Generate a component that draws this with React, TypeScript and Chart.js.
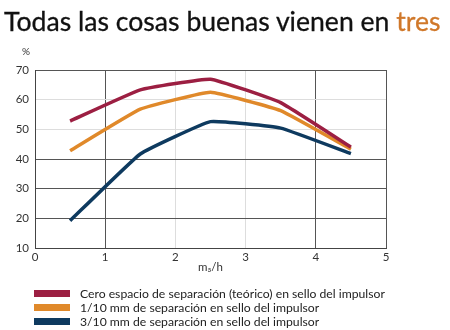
import React, { useEffect, useRef } from "react";
import { Chart, registerables } from "chart.js";

Chart.register(...registerables);

const xValues = [0.5, 1.5, 2.5, 3.5, 4.5];
const seriesCero = [52.8, 63.3, 66.9, 59.0, 44.0];
const seriesUno = [42.8, 56.8, 62.5, 56.3, 43.3];
const seriesTres = [19.2, 41.7, 52.6, 50.4, 41.8];
const seriesLabels = [
  "Cero espacio de separación (teórico) en sello del impulsor",
  "1/10 mm de separación en sello del impulsor",
  "3/10 mm de separación en sello del impulsor",
];
const seriesColors = ["#9c1f42", "#e0892a", "#0e3a5f"];
const xTicks = [0, 1, 2, 3, 4, 5];
const yTicks = [10, 20, 30, 40, 50, 60, 70];
const lightX = [2, 3];
const lightY = [50, 60];

const FONT = "Lato, 'Open Sans', sans-serif";

export default function App() {
  const canvasRef = useRef<HTMLCanvasElement | null>(null);

  useEffect(() => {
    document.body.style.margin = "0";
    const canvas = canvasRef.current;
    if (!canvas) return;
    const allSeries = [seriesCero, seriesUno, seriesTres];
    const chart = new Chart(canvas, {
      type: "line",
      data: {
        datasets: allSeries.map((s, i) => ({
          label: seriesLabels[i],
          data: s.map((y, j) => ({ x: xValues[j], y })),
          borderColor: seriesColors[i],
          backgroundColor: seriesColors[i],
          borderWidth: 3.5,
          pointRadius: 0,
          tension: 0.1,
          fill: false,
        })),
      },
      options: {
        responsive: false,
        animation: false,
        layout: { padding: { top: 70, left: 0, right: 64, bottom: 56 } },
        plugins: {
          legend: { display: false },
          tooltip: { enabled: false },
        },
        scales: {
          x: {
            type: "linear",
            min: 0,
            max: 5,
            afterBuildTicks: (scale: any) => {
              scale.ticks = xTicks.map((v) => ({ value: v }));
            },
            afterFit: (scale: any) => {
              scale.height = 26;
            },
            grid: {
              drawTicks: false,
              color: (ctx: any) =>
                lightX.includes(ctx.tick?.value) ? "#dddddd" : "#555555",
              lineWidth: 1,
            },
            border: { color: "#444444", width: 1 },
            ticks: {
              padding: 2,
              color: "#333333",
              font: { family: FONT, size: 11.5 },
              maxRotation: 0,
            },
            title: {
              display: true,
              text: "m₃/h",
              color: "#333333",
              font: { family: FONT, size: 11.5 },
              padding: { top: 0, bottom: 0 },
            },
          },
          y: {
            type: "linear",
            min: 10,
            max: 70,
            afterBuildTicks: (scale: any) => {
              scale.ticks = yTicks.map((v) => ({ value: v }));
            },
            afterFit: (scale: any) => {
              scale.width = 35;
            },
            grid: {
              drawTicks: false,
              color: (ctx: any) =>
                lightY.includes(ctx.tick?.value) ? "#dddddd" : "#555555",
              lineWidth: 1,
            },
            border: { color: "#444444", width: 1 },
            ticks: {
              padding: 6,
              color: "#333333",
              font: { family: FONT, size: 11.5 },
            },
          },
        },
      },
    });
    return () => chart.destroy();
  }, []);

  return (
    <div style={{ position: "relative", width: 450, height: 330, background: "#fff", overflow: "hidden" }}>
      <canvas
        ref={canvasRef}
        width={450}
        height={330}
        style={{ position: "absolute", left: 0, top: 0, width: 450, height: 330 }}
      />
      <div
        style={{
          position: "absolute",
          left: 4,
          top: 4,
          fontFamily: FONT,
          fontSize: 26.6,
          color: "#111111",
          whiteSpace: "nowrap",
          lineHeight: "34px",
          WebkitTextStroke: "0.3px #111111",
        }}
      >
        Todas las cosas buenas vienen en{" "}
        <span style={{ color: "#d0782a", WebkitTextStroke: "0.3px #d0782a" }}>tres</span>
      </div>
      <div
        style={{
          position: "absolute",
          left: 22,
          top: 45,
          fontFamily: FONT,
          fontSize: 10,
          color: "#333333",
          lineHeight: "12px",
        }}
      >
        %
      </div>
      <div style={{ position: "absolute", left: 34, top: 286 }}>
        {seriesLabels.map((label, i) => (
          <div
            key={label}
            style={{ display: "flex", alignItems: "center", height: 14, whiteSpace: "nowrap" }}
          >
            <span
              style={{ display: "inline-block", width: 36, height: 7, background: seriesColors[i], marginRight: 10 }}
            />
            <span style={{ fontFamily: FONT, fontSize: 12.2, color: "#222222" }}>{label}</span>
          </div>
        ))}
      </div>
    </div>
  );
}
